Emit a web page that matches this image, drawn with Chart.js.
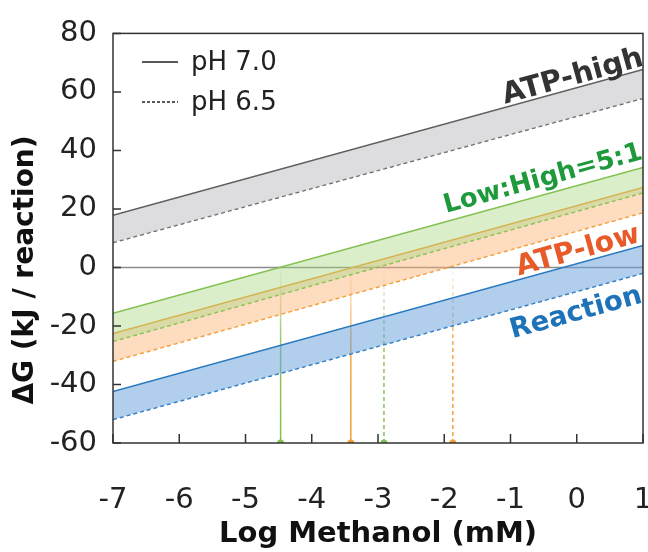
<!DOCTYPE html>
<html>
<head>
<meta charset="utf-8">
<script src="https://cdn.jsdelivr.net/npm/chart.js@4"></script>
<style>
html,body{margin:0;padding:0;background:#fff;}
#wrap{width:648px;height:552px;}
</style>
</head>
<body>
<div id="wrap"><canvas id="c" width="648" height="552"></canvas></div>
<script>
// ---- data ----
const xEnds = [-7, 1];                 // Log methanol (mM) range of the lines
const atpHighPH70 = [17.8, 67.7];
const atpHighPH65 = [8.5, 57.8];
const lowHighPH70 = [-15.7, 34.2];
const lowHighPH65 = [-25.3, 25.5];
const atpLowPH70 = [-22.6, 27.3];
const atpLowPH65 = [-32.1, 18.7];
const reactionPH70 = [-42.4, 7.5];
const reactionPH65 = [-52.0, -2.0];
const zeroLine = [0, 0];
const crossLowHigh = [-4.47, -2.91];   // pH 7.0, pH 6.5 zero crossings
const crossAtpLow = [-3.41, -1.87];
const seriesNames = ['ATP-high', 'Low:High=5:1', 'ATP-low', 'Reaction'];
const legendLabels = ['pH 7.0', 'pH 6.5'];
const xTickValues = [-7, -6, -5, -4, -3, -2, -1, 0, 1];
const yTickValues = [-60, -40, -20, 0, 20, 40, 60, 80];

// ---- styles ----
const COL = {
  gray: '#5e5e5e', grayFill: 'rgba(200,200,204,0.62)',
  green: '#80c14f', greenFill: 'rgba(168,214,128,0.42)',
  orange: '#f39c33', orangeFill: 'rgba(252,178,116,0.45)',
  blue: '#2a79bf', blueFill: 'rgba(105,162,218,0.52)'
};
const labelStyle = [
  {text: seriesNames[0], x: -0.06, y: 65.0, color: '#333333', ref: 0, size: 29},
  {text: seriesNames[1], x: -0.51, y: 30.1, color: '#1e9a3c', ref: 2, size: 26},
  {text: seriesNames[2], x: 0.02, y: 5.5, color: '#e85a2a', ref: 4, size: 28.5},
  {text: seriesNames[3], x: -0.01, y: -15.7, color: '#1d72b8', ref: 6, size: 27.5}
];
const FONT = 'DejaVu Sans';
const DASH = [4, 3];

const pts = ys => xEnds.map((x, i) => ({x: x, y: ys[i]}));
function band(ys, color, dashed, fillColor) {
  return {
    data: pts(ys), borderColor: color, borderWidth: 1.5,
    borderDash: dashed ? DASH : [], pointRadius: 0, tension: 0,
    fill: fillColor ? '+1' : false, backgroundColor: fillColor || 'transparent'
  };
}
function drop(x, color, dashed) {
  return {
    data: [{x: x, y: -60}, {x: x, y: 0}],
    borderWidth: 1.5, borderDash: dashed ? DASH : [], tension: 0, fill: false,
    pointRadius: [3.5, 0], pointHoverRadius: 0, pointBorderWidth: 0,
    pointBackgroundColor: color,
    borderColor: function (ctx) {
      const chart = ctx.chart;
      if (!chart.chartArea) return color;
      const yb = chart.scales.y.getPixelForValue(-60);
      const y0 = chart.scales.y.getPixelForValue(0);
      const g = chart.ctx.createLinearGradient(0, yb, 0, y0);
      const rgb = color === COL.green ? '128,193,79' : '243,156,51';
      g.addColorStop(0, 'rgba(' + rgb + ',1)');
      g.addColorStop(0.55, 'rgba(' + rgb + ',0.9)');
      g.addColorStop(1, 'rgba(' + rgb + ',0.08)');
      return g;
    }
  };
}

const datasets = [
  band(atpHighPH70, COL.gray, false, COL.grayFill),
  band(atpHighPH65, COL.gray, true, null),
  band(lowHighPH70, COL.green, false, COL.greenFill),
  band(lowHighPH65, COL.green, true, null),
  band(atpLowPH70, COL.orange, false, COL.orangeFill),
  band(atpLowPH65, COL.orange, true, null),
  band(reactionPH70, COL.blue, false, COL.blueFill),
  band(reactionPH65, COL.blue, true, null),
  {data: pts(zeroLine), borderColor: '#8c8c8c', borderWidth: 1.5, pointRadius: 0, fill: false},
  drop(crossLowHigh[0], COL.green, false),
  drop(crossAtpLow[0], COL.orange, false),
  drop(crossLowHigh[1], COL.green, true),
  drop(crossAtpLow[1], COL.orange, true)
];

const decor = {
  id: 'decor',
  afterDatasetsDraw(chart) {
    const c = chart.ctx, a = chart.chartArea, xs = chart.scales.x, ys = chart.scales.y;
    c.save();
    // frame
    c.strokeStyle = '#333'; c.lineWidth = 1.5;
    c.strokeRect(a.left, a.top, a.right - a.left, a.bottom - a.top);
    // inward ticks
    c.beginPath();
    xTickValues.forEach(v => { const p = xs.getPixelForValue(v); c.moveTo(p, a.bottom); c.lineTo(p, a.bottom - 9); });
    yTickValues.forEach(v => { const p = ys.getPixelForValue(v); c.moveTo(a.left, p); c.lineTo(a.left + 8, p); });
    c.stroke();
    // series labels along the lines
    labelStyle.forEach(l => {
      const d = chart.data.datasets[l.ref].data;
      const dx = xs.getPixelForValue(d[1].x) - xs.getPixelForValue(d[0].x);
      const dy = ys.getPixelForValue(d[1].y) - ys.getPixelForValue(d[0].y);
      c.save();
      c.translate(xs.getPixelForValue(l.x), ys.getPixelForValue(l.y));
      c.rotate(Math.atan2(dy, dx));
      c.font = 'bold ' + l.size + 'px "' + FONT + '"';
      c.fillStyle = l.color; c.textAlign = 'center'; c.textBaseline = 'middle';
      c.fillText(l.text, 0, 0);
      c.restore();
    });
    // legend
    c.strokeStyle = '#222'; c.lineWidth = 1.3;
    c.beginPath(); c.setLineDash([]); c.moveTo(142, 62); c.lineTo(178, 62); c.stroke();
    c.beginPath(); c.setLineDash([3, 2]); c.moveTo(142, 102); c.lineTo(178, 102); c.stroke();
    c.setLineDash([]);
    c.font = '26px "' + FONT + '"'; c.fillStyle = '#222'; c.textAlign = 'left'; c.textBaseline = 'middle';
    c.fillText(legendLabels[0], 191, 63);
    c.fillText(legendLabels[1], 191, 103);
    // y axis title
    c.save();
    c.translate(26, 270); c.rotate(-Math.PI / 2);
    c.font = 'bold 28px "' + FONT + '"'; c.fillStyle = '#111'; c.textAlign = 'center'; c.textBaseline = 'middle';
    c.fillText('ΔG (kJ / reaction)', 0, 0);
    c.restore();
    c.restore();
  }
};

new Chart(document.getElementById('c'), {
  type: 'line',
  data: {datasets: datasets},
  plugins: [decor],
  options: {
    responsive: false, animation: false,
    layout: {padding: {top: 32, right: 5, left: 0, bottom: 0}},
    plugins: {legend: {display: false}, tooltip: {enabled: false}},
    scales: {
      x: {
        type: 'linear', min: -7, max: 1,
        afterBuildTicks: s => { s.ticks = xTickValues.map(v => ({value: v})); },
        afterFit: s => { s.height = 109; s.paddingLeft = 0; s.paddingRight = 0; },
        ticks: {font: {family: FONT, size: 29}, color: '#222', padding: 40, maxRotation: 0, autoSkip: false},
        grid: {display: false, drawTicks: false}, border: {display: false},
        title: {display: true, text: 'Log Methanol (mM)', color: '#111',
                font: {family: FONT, size: 29, weight: 'bold'}, padding: {top: 0, bottom: 0}}
      },
      y: {
        min: -60, max: 80,
        afterBuildTicks: s => { s.ticks = yTickValues.map(v => ({value: v})); },
        afterFit: s => { s.width = 113; },
        ticks: {font: {family: FONT, size: 29}, color: '#222', padding: 16},
        grid: {display: false, drawTicks: false}, border: {display: false}
      }
    }
  }
});
</script>
</body>
</html>
